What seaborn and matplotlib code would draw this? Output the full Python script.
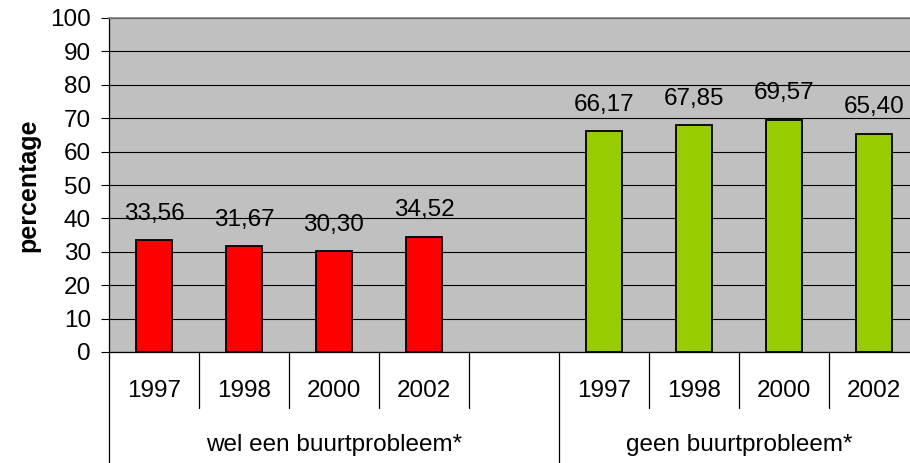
import numpy as np
import pandas as pd
import matplotlib
matplotlib.use("Agg")
import matplotlib.pyplot as plt
import matplotlib.transforms as mtransforms
import seaborn as sns

# data
groups = ["wel een buurtprobleem*", "geen buurtprobleem*"]
years = ["1997", "1998", "2000", "2002"]
wel_values = [33.56, 31.67, 30.30, 34.52]
geen_values = [66.17, 67.85, 69.57, 65.40]

# slots: 4 bars, an empty slot, 4 bars
slots = [f"wel {y}" for y in years] + ["gap"] + [f"geen {y}" for y in years]
df = pd.DataFrame({
    "slot": [f"wel {y}" for y in years] + [f"geen {y}" for y in years],
    "groep": [groups[0]] * 4 + [groups[1]] * 4,
    "percentage": wel_values + geen_values,
})

sns.set_style("white")
plt.rcParams["font.family"] = ["Liberation Sans", "DejaVu Sans"]
plt.rcParams["text.color"] = "black"
plt.rcParams["xtick.color"] = "black"
plt.rcParams["ytick.color"] = "black"

fig = plt.figure(figsize=(9.1, 4.63), dpi=100)
ax = fig.add_axes([109 / 910, 111 / 463, 810 / 910, 334 / 463])
ax.set_facecolor("#C0C0C0")

sns.barplot(data=df, x="slot", y="percentage", hue="groep", order=slots,
            palette={groups[0]: "#FF0000", groups[1]: "#99CC00"},
            saturation=1, dodge=False, width=0.41, edgecolor="black",
            linewidth=1.3, legend=False, ax=ax, zorder=3)

for cont in ax.containers:
    vals = [b.get_height() for b in cont]
    ax.bar_label(cont, labels=[f"{v:.2f}".replace(".", ",") if not np.isnan(v) else ""
                               for v in vals],
                 padding=11, fontsize=17.5, color="black")

ax.set_ylim(0, 100)
ax.set_xlim(-0.5, len(slots) - 0.5)
ax.set_yticks(range(0, 101, 10))
ax.tick_params(axis="y", labelsize=17.5, length=6, width=0.8, colors="black",
               direction="out", left=True, pad=7)
ax.yaxis.grid(True, color="black", linewidth=0.8)
ax.set_axisbelow(True)

ax.set_xticks(range(len(slots)))
ax.set_xticklabels(years + [""] + years, fontsize=17.5)
ax.tick_params(axis="x", length=0, pad=20, colors="black")
ax.set_xlabel("")
ax.set_ylabel("")

for side in ["left", "bottom"]:
    ax.spines[side].set_color("black")
    ax.spines[side].set_linewidth(0.9)
ax.spines["top"].set_color("#808080")
ax.spines["top"].set_linewidth(1.2)
ax.spines["right"].set_visible(False)

# category table lines below the axis
trans = mtransforms.blended_transform_factory(ax.transData, ax.transAxes)
for i in range(len(slots)):
    xb = i - 0.5
    low = -0.35 if i in (0, 5) else -0.168
    ax.plot([xb, xb], [0, low], color="black", lw=0.9, transform=trans, clip_on=False)

ax.text(2.0, -0.245, groups[0], transform=trans, ha="center", va="top", fontsize=17.5)
ax.text(6.5, -0.245, groups[1], transform=trans, ha="center", va="top", fontsize=17.5)

fig.text(28 / 910, 0.6, "percentage", rotation=90, ha="center", va="center",
         fontsize=18, fontweight="bold", color="black")

fig.savefig("out.png", dpi=100)
